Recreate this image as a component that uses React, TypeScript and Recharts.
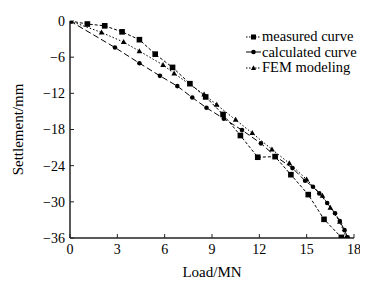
import React from 'react';
import { LineChart, Line, XAxis, YAxis } from 'recharts';

const xTicks = [0, 3, 6, 9, 12, 15, 18];
const yTicks = [-36, -30, -24, -18, -12, -6, 0];

const measuredLoad = [0, 1.1, 2.2, 3.3, 4.4, 5.4, 6.5, 7.6, 8.6, 9.7, 10.8, 11.9, 13.0, 14.0, 15.1, 16.1, 17.2];
const measuredSettle = [0, -0.5, -0.8, -1.8, -3.1, -5.5, -7.7, -10.4, -12.6, -15.5, -19.0, -22.6, -22.5, -25.5, -28.8, -32.9, -35.9];

const calcLoad = [0, 2.85, 4.4, 5.7, 6.8, 7.75, 8.65, 9.75, 10.9, 12.1, 13.0, 14.1, 14.9, 15.4, 15.8, 16.3, 16.8, 17.1, 17.4, 17.6];
const calcSettle = [0, -4.4, -7.0, -9.1, -10.8, -12.7, -14.4, -16.2, -18.1, -20.3, -22.4, -24.4, -26.5, -27.5, -28.6, -30.2, -31.9, -33.2, -34.7, -35.9];

const femLoad = [0, 2.0, 3.4, 4.4, 5.9, 6.6, 8.5, 9.3, 10.5, 11.55, 12.8, 13.9, 15.0, 16.0, 16.5, 17.1, 17.5];
const femSettle = [0, -1.9, -3.5, -5.0, -7.3, -8.7, -12.2, -13.9, -16.4, -18.6, -21.3, -23.6, -26.3, -29.0, -31.0, -33.3, -35.9];

const seriesNames = ['measured curve', 'calculated curve', 'FEM modeling'];

const toData = (xs: number[], ys: number[]) => xs.map((x, i) => ({ x, y: ys[i] }));
const measuredData = toData(measuredLoad, measuredSettle);
const calcData = toData(calcLoad, calcSettle);
const femData = toData(femLoad, femSettle);

const FONT = '"Liberation Serif", "Times New Roman", serif';

const SquareDot = (props: any) => {
  const { cx, cy, index } = props;
  if (cx == null || cy == null) return <g key={index} />;
  return <rect key={index} x={cx - 2.8} y={cy - 2.8} width={5.6} height={5.6} fill="#000" />;
};
const CircleDot = (props: any) => {
  const { cx, cy, index } = props;
  if (cx == null || cy == null) return <g key={index} />;
  if (index === 0) return <g key={index} />;
  return <circle key={index} cx={cx} cy={cy} r={2.3} fill="#000" />;
};
const TriDot = (props: any) => {
  const { cx, cy, index } = props;
  if (cx == null || cy == null) return <g key={index} />;
  if (index === 0) return <g key={index} />;
  return <polygon key={index} points={`${cx},${cy - 3} ${cx - 2.8},${cy + 2} ${cx + 2.8},${cy + 2}`} fill="#000" />;
};

const dashes = ['3 2', '6 3', '1.5 2'];

const LegendBox = () => (
  <div style={{ position: 'absolute', left: 238, top: 21, fontFamily: FONT, fontSize: 14.5, lineHeight: '15.5px', color: '#000', whiteSpace: 'nowrap' }}>
    {seriesNames.map((n, i) => (
      <div key={n} style={{ display: 'flex', alignItems: 'center', height: 15.5 }}>
        <svg width={15} height={10} style={{ marginRight: 1 }}>
          <line x1={0} y1={5} x2={15} y2={5} stroke="#000" strokeWidth={1} strokeDasharray={i === 1 ? undefined : '1.5 1.5'} />
          {i === 0 && <rect x={5} y={2.5} width={5} height={5} fill="#000" />}
          {i === 1 && <circle cx={7.5} cy={5} r={2.3} fill="#000" />}
          {i === 2 && <polygon points="7.5,2.2 5,7 10,7" fill="#000" />}
        </svg>
        <span>{n}</span>
      </div>
    ))}
  </div>
);

export default function App() {
  return (
    <div style={{ position: 'relative', width: 360, height: 280, background: '#fff' }}>
      <LineChart width={360} height={280} margin={{ top: 13, right: 14, left: 12, bottom: 20 }}>
        <XAxis
          type="number"
          dataKey="x"
          domain={[0, 18]}
          ticks={xTicks}
          allowDataOverflow
          tickSize={-4}
          tickMargin={10}
          height={30}
          axisLine={{ stroke: '#222', strokeWidth: 1.5 }}
          tickLine={{ stroke: '#222', strokeWidth: 1 }}
          tick={{ fill: '#000', fontFamily: FONT, fontSize: 14 }}
          label={{ value: 'Load/MN', position: 'bottom', offset: -2, style: { fill: '#000', fontFamily: FONT, fontSize: 15 } }}
        />
        <YAxis
          type="number"
          dataKey="y"
          domain={[-36, 0]}
          ticks={yTicks}
          allowDataOverflow
          tickSize={-4}
          tickMargin={9}
          width={50}
          axisLine={{ stroke: '#222', strokeWidth: 1.5 }}
          tickLine={{ stroke: '#222', strokeWidth: 1 }}
          tickFormatter={(v: number) => String(v).replace('-', '\u2212')}
          tick={{ fill: '#000', fontFamily: FONT, fontSize: 14 }}
          label={{ value: 'Settlement/mm', angle: -90, position: 'insideLeft', offset: -2, style: { textAnchor: 'middle', fill: '#000', fontFamily: FONT, fontSize: 15 } }}
        />
        <Line data={measuredData} dataKey="y" name={seriesNames[0]} type="linear" stroke="#000" strokeWidth={1} strokeDasharray={dashes[0]} dot={<SquareDot />} isAnimationActive={false} />
        <Line data={calcData} dataKey="y" name={seriesNames[1]} type="linear" stroke="#000" strokeWidth={1} strokeDasharray={dashes[1]} dot={<CircleDot />} isAnimationActive={false} />
        <Line data={femData} dataKey="y" name={seriesNames[2]} type="linear" stroke="#000" strokeWidth={1} strokeDasharray={dashes[2]} dot={<TriDot />} isAnimationActive={false} />
      </LineChart>
      <LegendBox />
    </div>
  );
}
